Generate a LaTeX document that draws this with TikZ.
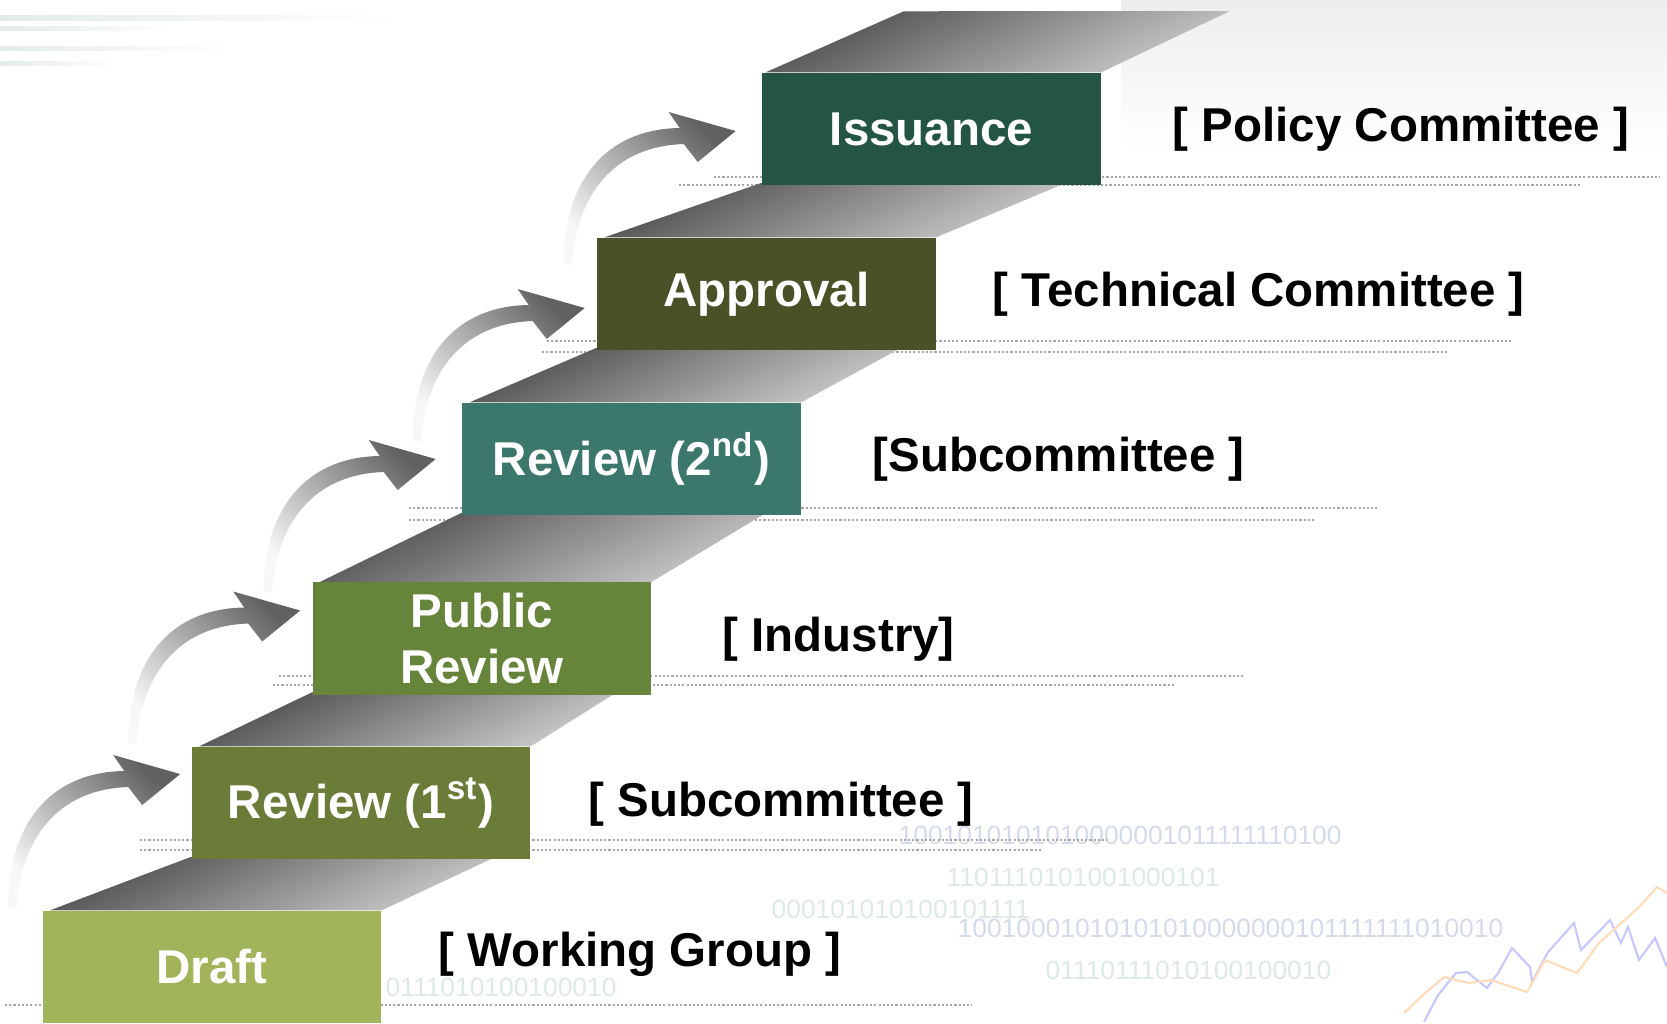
\documentclass[tikz,border=0pt]{standalone}
\usepackage{fontspec}
\setmainfont{Liberation Sans}
\usetikzlibrary{calc,backgrounds}

\definecolor{draftgreen}{HTML}{A2B45A}
\definecolor{reviewolive}{HTML}{6B7B38}
\definecolor{publicgreen}{HTML}{66843A}
\definecolor{reviewteal}{HTML}{3B776B}
\definecolor{approvalolive}{HTML}{4A5127}
\definecolor{issuegreen}{HTML}{235446}
\definecolor{bitblue}{HTML}{D3DAE9}
\definecolor{bitgreen}{HTML}{DCE9E4}
\definecolor{barmint}{HTML}{E2ECE8}

\tikzset{
  stepbox/.style={rectangle, minimum width=3.38cm, minimum height=1.12cm,
    inner sep=0pt, text=white, align=center,
    font=\fontsize{13.5}{16.2}\selectfont\bfseries},
  tag/.style={anchor=west, inner sep=0pt,
    font=\fontsize{13.5}{16.2}\selectfont\bfseries},
  dots/.style={black!35, line width=0.6pt, dash pattern=on 0.6pt off 0.6pt},
  ramp/.style={top color=black!70, bottom color=black!20, shading angle=25},
  bits/.style={anchor=west, inner sep=0pt, font=\fontsize{7.5}{9}\selectfont},
  pics/stairarrow/.style={code={
    \shade[bottom color=black!3, top color=black!62, shading angle=-45]
      (0,0) -- (-38,31) -- (-52,13)
      .. controls (-115,15) and (-158,55) .. (-164,134) -- (-172,132)
      .. controls (-172,50) and (-130,-2) .. (-56,-3) -- (-67,-19) -- cycle;
  }}
}

\begin{document}
\begin{tikzpicture}[x=0.01cm, y=-0.01cm]
\useasboundingbox (0,0) rectangle (1667,1023);

% the steps
\node[stepbox, fill=draftgreen] (draft) at (212,967) {Draft};
\node[stepbox, fill=reviewolive] (rev1) at (361,803) {Review (1\textsuperscript{st})};
\node[stepbox, fill=publicgreen] (pub) at (482,638.5) {Public\\Review};
\node[stepbox, fill=reviewteal] (rev2) at (631.5,459) {Review (2\textsuperscript{nd})};
\node[stepbox, fill=approvalolive] (appr) at (766.5,294) {Approval};
\node[stepbox, fill=issuegreen] (iss) at (931.5,129) {Issuance};

% who is in charge
\node[tag] (wg) at (438,954) {[ Working Group ]};
\node[tag] (sub1) at (588,804) {[ Subcommittee ]};
\node[tag] (ind) at (722,639) {[ Industry]};
\node[tag] (sub2) at (872,459) {[Subcommittee ]};
\node[tag] (tech) at (992,294) {[ Technical Committee ]};
\node[tag] (pol) at (1172,129) {[ Policy Committee ]};

% arrow tips
\path (rev1.west) ++(-11,-29) coordinate (tip1);
\path (pub.west) ++(-12,-28) coordinate (tip2);
\path (rev2.west) ++(-26,0) coordinate (tip3);
\path (appr.west) ++(-12,14) coordinate (tip4);
\path (iss.west) ++(-26,2) coordinate (tip5);
\foreach \t in {tip1,tip2,tip3,tip4,tip5}
  \pic at (\t) {stairarrow};

\begin{scope}[on background layer]
% faint backdrop
\shade[top color=black!7, bottom color=white] (1121,0) rectangle (1667,150);
\shade[left color=barmint, right color=white] (0,15) rectangle (400,20);
\shade[left color=barmint, right color=white] (0,26) rectangle (175,30);
\shade[left color=barmint, right color=white] (0,46) rectangle (230,50);
\shade[left color=barmint, right color=white] (0,61) rectangle (120,65);
\node[bits, text=bitblue] (b1) at (898,835) {1001010101010000001011111110100};
\node[bits, text=bitgreen] (b2) at (946,877) {1101110101001000101};
\node[bits, text=bitgreen] (b3) at (771,909) {000101010100101111};
\node[bits, text=bitblue] (b4) at (957,928) {10010001010101010000000101111111010010};
\node[bits, text=bitgreen] (b5) at (1045,970) {01110111010100100010};
\node[bits, text=bitgreen] (b6) at (385,987) {0111010100100010};
\draw[blue!22!white, line width=0.6pt] (1424,1022) -- (1438,995) -- (1456,973)
  -- (1467,972) -- (1487,988) -- (1498,973) -- (1512,948) -- (1530,967)
  -- (1532,982) -- (1548,952) -- (1574,923) -- (1581,950) -- (1610,920)
  -- (1621,943) -- (1628,927) -- (1639,960) -- (1655,938) -- (1667,967);
\draw[orange!28!white, line width=0.6pt] (1404,1013) -- (1425,993) -- (1444,977)
  -- (1469,983) -- (1491,980) -- (1527,992) -- (1545,960) -- (1577,973)
  -- (1599,943) -- (1639,907) -- (1657,887) -- (1667,893);

% dotted guide lines
\foreach \y/\a/\b in {177/714/1660, 185/679/1581, 341/547/1513, 352/542/1447,
    508/409/1377, 520/409/1315, 676/279/1245, 685/273/1176,
    840/140/1107, 850/140/1042, 1005/5/972}
  \draw[dots] (\a,\y) -- (\b,\y);

% the staircase
\foreach \lo/\up in {draft/rev1, rev1/pub, pub/rev2, rev2/appr, appr/iss}
  \shade[ramp] ($(\lo.north west)+(8,0)$) -- ($(\up.south west)+(0,-3)$)
    -- ($(\up.south east)+(-35,-3)$) -- (\lo.north east) -- cycle;
\shade[ramp] ($(iss.north west)+(4,0)$) -- ++(138,-61) -- (1230,11)
  -- (iss.north east) -- cycle;
\end{scope}
\end{tikzpicture}
\end{document}
